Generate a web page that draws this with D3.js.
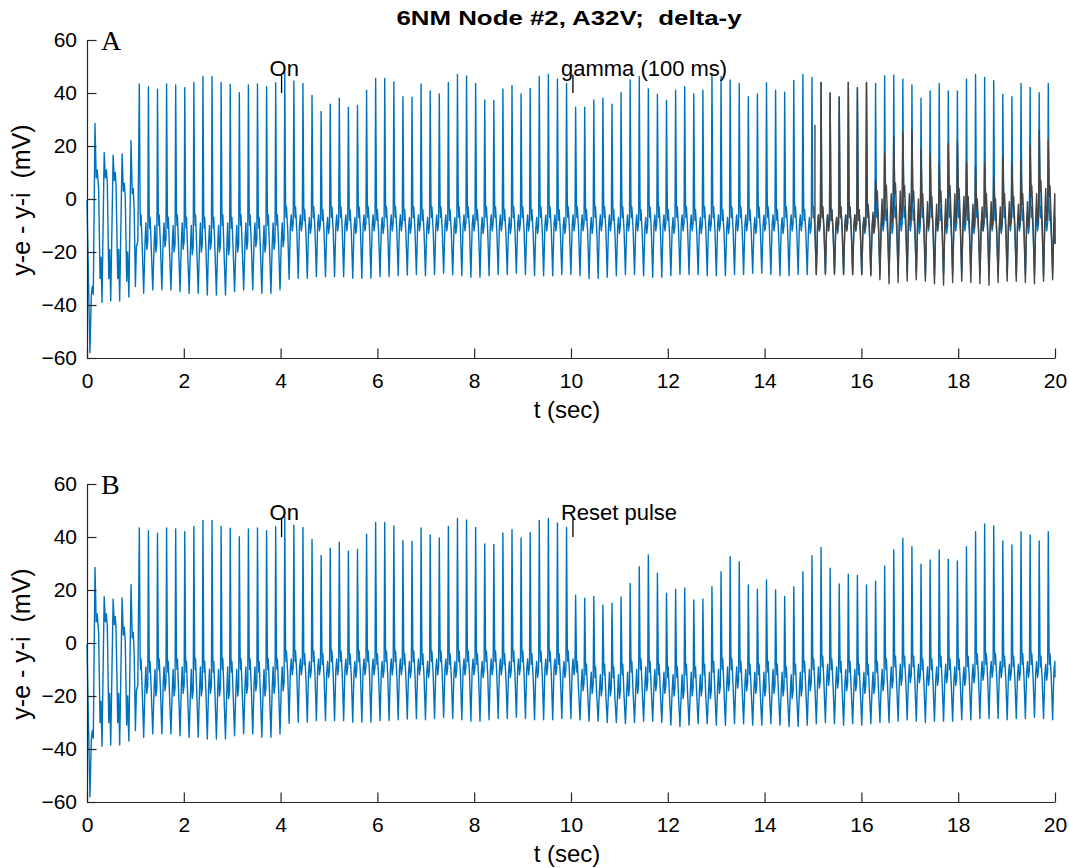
<!DOCTYPE html>
<html>
<head>
<meta charset="utf-8">
<script src="https://cdn.jsdelivr.net/npm/d3@7"></script>
<style>
  body { margin: 0; background: #fff; }
  svg { display: block; font-family: "Liberation Sans", Arial, sans-serif; }
  text { white-space: pre; }
</style>
</head>
<body>
<svg id="chart" width="1069" height="868"></svg>
<script>
// tick labels
const xTicks = [0, 2, 4, 6, 8, 10, 12, 14, 16, 18, 20];
const yTicks = [-60, -40, -20, 0, 20, 40, 60];

// opening transient (same in both runs), [t sec, mV]
const startTrace = [
  [0, -0.5], [0.03, -30], [0.06, -58], [0.09, -36], [0.11, -33], [0.13, -36],
  [0.165, 28.5], [0.19, 8], [0.21, 11], [0.24, 4], [0.27, -30], [0.29, -22], [0.31, -39],
  [0.355, 17.5], [0.38, 8], [0.40, 11], [0.42, 6], [0.45, -30], [0.47, -19], [0.49, -38.5],
  [0.54, 16.5], [0.565, 7], [0.585, 10], [0.60, 5], [0.635, -30], [0.655, -19], [0.675, -38.5],
  [0.725, 17], [0.75, 3], [0.77, 6], [0.79, 1], [0.82, -31], [0.84, -20], [0.865, -37],
  [0.91, 22], [0.935, 2], [0.955, 4], [0.975, -4], [1.0, -33], [1.02, -18], [1.05, -16]
];

// spikes after the transient: first spike time and spacing (sec)
const spikeStart = 1.081;
const spikePeriod = 0.1878;

// panel A, one value per spike cycle
const peaksA = [
  43.4, 42.4, 41.4, 43.4, 43.0, 42.0, 44.0, 46.2, 46.2, 44.0,
  43.3, 40.1, 43.0, 43.4, 42.4, 43.9, 47.8, 44.5, 43.6, 39.1,
  33.0, 35.8, 38.0, 34.6, 35.3, 41.1, 45.5, 45.5, 44.2, 38.6,
  38.4, 43.4, 40.8, 39.6, 44.0, 47.0, 46.4, 43.6, 37.4, 37.2,
  41.5, 42.8, 39.6, 41.7, 46.2, 47.0, 45.3, 43.6, 34.6, 34.6,
  37.4, 38.0, 35.8, 40.1, 44.9, 46.2, 41.5, 39.5, 37.2, 41.1,
  42.4, 39.6, 41.1, 47.4, 46.2, 44.9, 43.6, 38.6, 39.6, 43.9,
  41.1, 40.3, 44.7, 47.0, 45.9, 44.0, 40.0, 38.5, 44.0, 42.0,
  44.0, 43.6, 46.5, 46.7, 45.2, 43.0, 38.0, 40.8, 43.6, 40.8,
  40.8, 45.2, 47.0, 45.9, 44.6, 39.5, 38.6, 43.6, 42.1, 40.1,
  43.6
];
const troughsA = [
  -35.6, -34.3, -34.3, -34.3, -35.0, -35.6, -35.6, -36.2, -36.2, -36.2,
  -35.0, -34.3, -34.3, -35.6, -35.6, -34.3, -30.3, -29.9, -29.9, -29.3,
  -29.3, -29.3, -29.3, -29.9, -29.9, -29.9, -29.3, -29.3, -29.0, -28.7,
  -28.5, -29.0, -28.5, -28.0, -28.5, -29.0, -29.5, -29.5, -29.0, -28.5,
  -28.5, -28.0, -28.5, -29.0, -29.0, -29.0, -28.5, -28.5, -29.0, -30.0,
  -30.0, -29.5, -29.0, -28.5, -28.5, -29.0, -29.5, -29.5, -29.0, -28.5,
  -28.5, -28.5, -29.0, -29.0, -29.0, -28.5, -28.5, -28.0, -28.0, -28.5,
  -29.0, -29.0, -28.5, -28.5, -28.5, -28.0, -28.0, -28.5, -28.5, -28.5,
  -28.5, -28.5, -28.0, -28.0, -28.0, -28.5, -29.0, -29.0, -28.5, -28.5,
  -28.5, -28.0, -28.0, -28.0, -28.5, -29.0, -29.0, -28.5, -28.5, -29.0,
  -28.0
];
const shouldersA = [
  -5, -6, -5, -6, -5, -6, -5, -6, -6, -5,
  -6, -5, -5, -6, -5, -5, -2, -2, -3, -2,
  -3, -2, -2, -3, -2, -2, -3, -2, -2, -3,
  -2, -3, -2, -2, -3, -2, -2, -3, -2, -2,
  -3, -2, -2, -3, -2, -2, -3, -2, -2, -3,
  -2, -2, -3, -2, -2, -3, -2, -2, -3, -2,
  -2, -3, -2, -2, -3, -2, -2, -3, -2, -2,
  -3, -2, -2, -3, -2, -2, -3, -2, -2, -3,
  -2, -2, -3, -2, -2, -3, -2, -2, -3, -2,
  -2, -3, -2, -2, -3, -2, -2, -3, -2, -2,
  -3
];
const dipsA = [
  -19, -20, -18, -20, -19, -21, -20, -19, -20, -21,
  -20, -19, -18, -20, -19, -18, -12, -12, -13, -12,
  -13, -12, -12, -13, -12, -12, -13, -12, -12, -13,
  -12, -13, -12, -12, -13, -12, -12, -13, -12, -12,
  -13, -12, -12, -13, -12, -12, -13, -12, -12, -13,
  -12, -12, -13, -12, -12, -13, -12, -12, -13, -12,
  -12, -13, -12, -12, -13, -12, -12, -13, -12, -12,
  -13, -12, -12, -13, -12, -12, -13, -12, -12, -13,
  -12, -12, -13, -12, -12, -13, -12, -12, -13, -12,
  -12, -13, -12, -12, -13, -12, -12, -13, -12, -12,
  -13
];
const endA = -17;

// second trace in panel A (gamma stimulation), cycles 74..100
const grayFirstCycle = 74;
const grayStartPoint = [15.04, 28];
const grayPeaks = [
  45.9, 44.0, 40.0, 38.5, 44.0, 42.0, 44.0, 7.0, 17.0, 23.5,
  25.0, 26.0, 18.5, 17.0, 13.5, 21.0, 22.0, 13.5, 12.0, 13.5,
  8.5, 16.0, 13.5, 15.0, 20.0, 26.0, 22.0
];
const grayTroughs = [
  -28.5, -28.5, -28.5, -28.5, -28.5, -28.5, -29.0, -30.5, -32.0, -31.5,
  -31.0, -30.5, -31.0, -32.0, -32.5, -31.5, -31.0, -31.5, -32.0, -32.5,
  -31.5, -31.0, -31.0, -31.5, -32.0, -31.0, -30.5
];
const grayShoulders = [
  -2, -2, -3, -2, -2, -3, -1, 4, 6, 7,
  6, 4, 3, 2, 4, 6, 5, 2, 1, 3,
  1, 3, 2, 3, 6, 8, 6
];
const grayDips = [
  -12, -12, -12, -12, -12, -12, -13, -10, -9, -8,
  -8, -10, -11, -12, -10, -9, -9, -11, -12, -11,
  -12, -10, -11, -10, -9, -8, -9
];
const grayEnd = -17;

// panel B: identical to A up to the reset pulse, then these cycles (48..100)
const resetCycle = 48;
const peaksBAfter = [
  18.0, 16.9, 17.6, 14.3, 15.0, 17.4, 22.5, 28.8, 33.2, 26.3,
  18.8, 20.3, 20.8, 16.2, 16.5, 21.2, 26.9, 32.6, 30.7, 21.9,
  20.3, 23.8, 20.0, 17.6, 21.2, 26.9, 32.9, 36.1, 28.2, 22.3,
  26.0, 25.5, 21.9, 23.3, 29.1, 35.1, 39.5, 36.3, 29.7, 31.3,
  35.1, 31.6, 31.0, 36.3, 42.0, 44.9, 44.2, 38.5, 37.0, 42.0,
  40.8, 38.5, 42.0
];
const troughsBAfter = [
  -29.0, -29.5, -29.5, -30.0, -30.0, -30.5, -30.0, -29.5, -29.5, -30.0,
  -31.0, -31.5, -31.0, -30.5, -30.5, -31.0, -31.0, -30.5, -30.5, -31.0,
  -31.0, -30.5, -31.0, -31.5, -31.5, -31.0, -30.5, -30.0, -30.5, -31.0,
  -30.5, -31.0, -30.5, -30.0, -30.0, -29.5, -29.0, -29.5, -30.0, -29.5,
  -29.5, -29.5, -29.0, -29.0, -28.5, -28.5, -28.5, -29.0, -28.5, -28.5,
  -28.0, -28.5, -29.0
];
const shouldersBAfter = [
  -6, -7, -8, -7, -8, -7, -6, -5, -6, -7,
  -8, -8, -7, -8, -7, -6, -5, -5, -6, -7,
  -7, -6, -7, -8, -7, -6, -5, -4, -5, -6,
  -6, -7, -7, -6, -5, -4, -4, -4, -5, -5,
  -4, -5, -5, -4, -3, -3, -3, -4, -4, -3,
  -3, -4, -3
];
const dipsBAfter = [
  -18, -19, -20, -20, -21, -20, -19, -18, -18, -19,
  -20, -21, -20, -20, -21, -19, -18, -17, -18, -19,
  -20, -19, -20, -21, -20, -18, -17, -16, -17, -18,
  -18, -19, -19, -18, -17, -16, -15, -15, -16, -16,
  -15, -16, -16, -15, -14, -13, -13, -14, -14, -13,
  -13, -14, -13
];
const endB = -13;

// annotations
const notesA = [{ t: 4.02, label: "On" }, { t: 10.04, label: "gamma (100 ms)" }];
const notesB = [{ t: 4.02, label: "On" }, { t: 10.04, label: "Reset pulse" }];

// shape of one spike cycle: [phase, which level, offset mV]
const cycleShape = [
  [0.00, "p", 0], [0.09, "s", 0], [0.14, "s", -5], [0.19, "s", -1],
  [0.33, "d", 0], [0.48, "t", 0], [0.62, "d", 2], [0.72, "s", -4],
  [0.82, "d", 0], [0.93, "d", 3]
];

function cyclePoints(i, p, t, s, d) {
  const base = spikeStart + i * spikePeriod;
  return cycleShape.map(c => {
    const lvl = c[1] === "p" ? p : c[1] === "t" ? t : c[1] === "s" ? s : d;
    return [base + c[0] * spikePeriod, lvl + c[2]];
  });
}

function buildTrace(peaks, troughs, shoulders, dips, endValue) {
  let pts = startTrace.slice();
  peaks.forEach((p, i) => {
    pts = pts.concat(cyclePoints(i, p, troughs[i], shoulders[i], dips[i]));
  });
  pts = pts.filter(d => d[0] < 20);
  pts.push([20, endValue]);
  return pts;
}

const traceA = buildTrace(peaksA, troughsA, shouldersA, dipsA, endA);
const traceB = buildTrace(
  peaksA.slice(0, resetCycle).concat(peaksBAfter),
  troughsA.slice(0, resetCycle).concat(troughsBAfter),
  shouldersA.slice(0, resetCycle).concat(shouldersBAfter),
  dipsA.slice(0, resetCycle).concat(dipsBAfter),
  endB);

let traceGray = [grayStartPoint];
grayPeaks.forEach((p, k) => {
  const pts = cyclePoints(grayFirstCycle + k, p, grayTroughs[k], grayShoulders[k], grayDips[k]);
  traceGray = traceGray.concat(pts.filter(d => d[0] > grayStartPoint[0] && d[0] < 20));
});
traceGray.push([20, grayEnd]);

// ---- drawing ----
const svg = d3.select("#chart");
const axisColor = "#262626";
const x = d3.scaleLinear().domain([0, 20]).range([87, 1055]);

svg.append("text")
  .attr("x", 569).attr("y", 25)
  .attr("text-anchor", "middle")
  .attr("font-weight", "bold")
  .attr("font-size", 20)
  .attr("textLength", 345)
  .attr("lengthAdjust", "spacingAndGlyphs")
  .attr("fill", "#000")
  .text("6NM Node #2, A32V;  delta-y");

function panel(top, bottom, letter, traces, notes) {
  const y = d3.scaleLinear().domain([-60, 60]).range([bottom, top]);
  const g = svg.append("g");

  const line = d3.line().x(d => x(d[0])).y(d => y(d[1]));
  traces.forEach(tr => {
    g.append("path")
      .datum(tr.data)
      .attr("fill", "none")
      .attr("stroke", tr.color)
      .attr("stroke-width", 1.4)
      .attr("stroke-linejoin", "round")
      .attr("d", line);
  });

  const xAxis = g.append("g")
    .attr("transform", "translate(0," + bottom + ")")
    .call(d3.axisBottom(x).tickValues(xTicks).tickSizeInner(-9.5).tickSizeOuter(0).tickPadding(15));
  const yAxis = g.append("g")
    .attr("transform", "translate(87,0)")
    .call(d3.axisLeft(y).tickValues(yTicks).tickSizeInner(-9.5).tickSizeOuter(0).tickPadding(10));
  [xAxis, yAxis].forEach(ax => {
    ax.attr("font-family", null).attr("font-size", 21);
    ax.select(".domain").attr("stroke", axisColor).attr("stroke-width", 1.2);
    ax.selectAll(".tick line").attr("stroke", axisColor).attr("stroke-width", 1.2);
    ax.selectAll(".tick text").attr("fill", "#000");
  });
  xAxis.selectAll(".tick text").attr("dy", "0.71em");

  g.append("text")
    .attr("x", 567).attr("y", bottom + 60)
    .attr("text-anchor", "middle")
    .attr("font-size", 24)
    .text("t (sec)");

  g.append("text")
    .attr("transform", "translate(30," + ((top + bottom) / 2 + 1) + ") rotate(-90)")
    .attr("text-anchor", "middle")
    .attr("font-size", 25)
    .text("y-e - y-i  (mV)");

  g.append("text")
    .attr("x", 101).attr("y", top + 10)
    .attr("font-family", "'Liberation Serif', 'DejaVu Serif', serif")
    .attr("font-size", 28)
    .text(letter);

  notes.forEach(n => {
    g.append("line")
      .attr("x1", x(n.t)).attr("x2", x(n.t))
      .attr("y1", y(47)).attr("y2", y(40))
      .attr("stroke", "#000").attr("stroke-width", 1.3);
    g.append("text")
      .attr("x", x(n.t) - 12).attr("y", y(47) + 2)
      .attr("font-size", 22)
      .text(n.label);
  });
}

panel(40, 358, "A", [
  { data: traceA, color: "#0072BD" },
  { data: traceGray, color: "#454545" }
], notesA);

panel(484, 802, "B", [
  { data: traceB, color: "#0072BD" }
], notesB);
</script>
</body>
</html>
